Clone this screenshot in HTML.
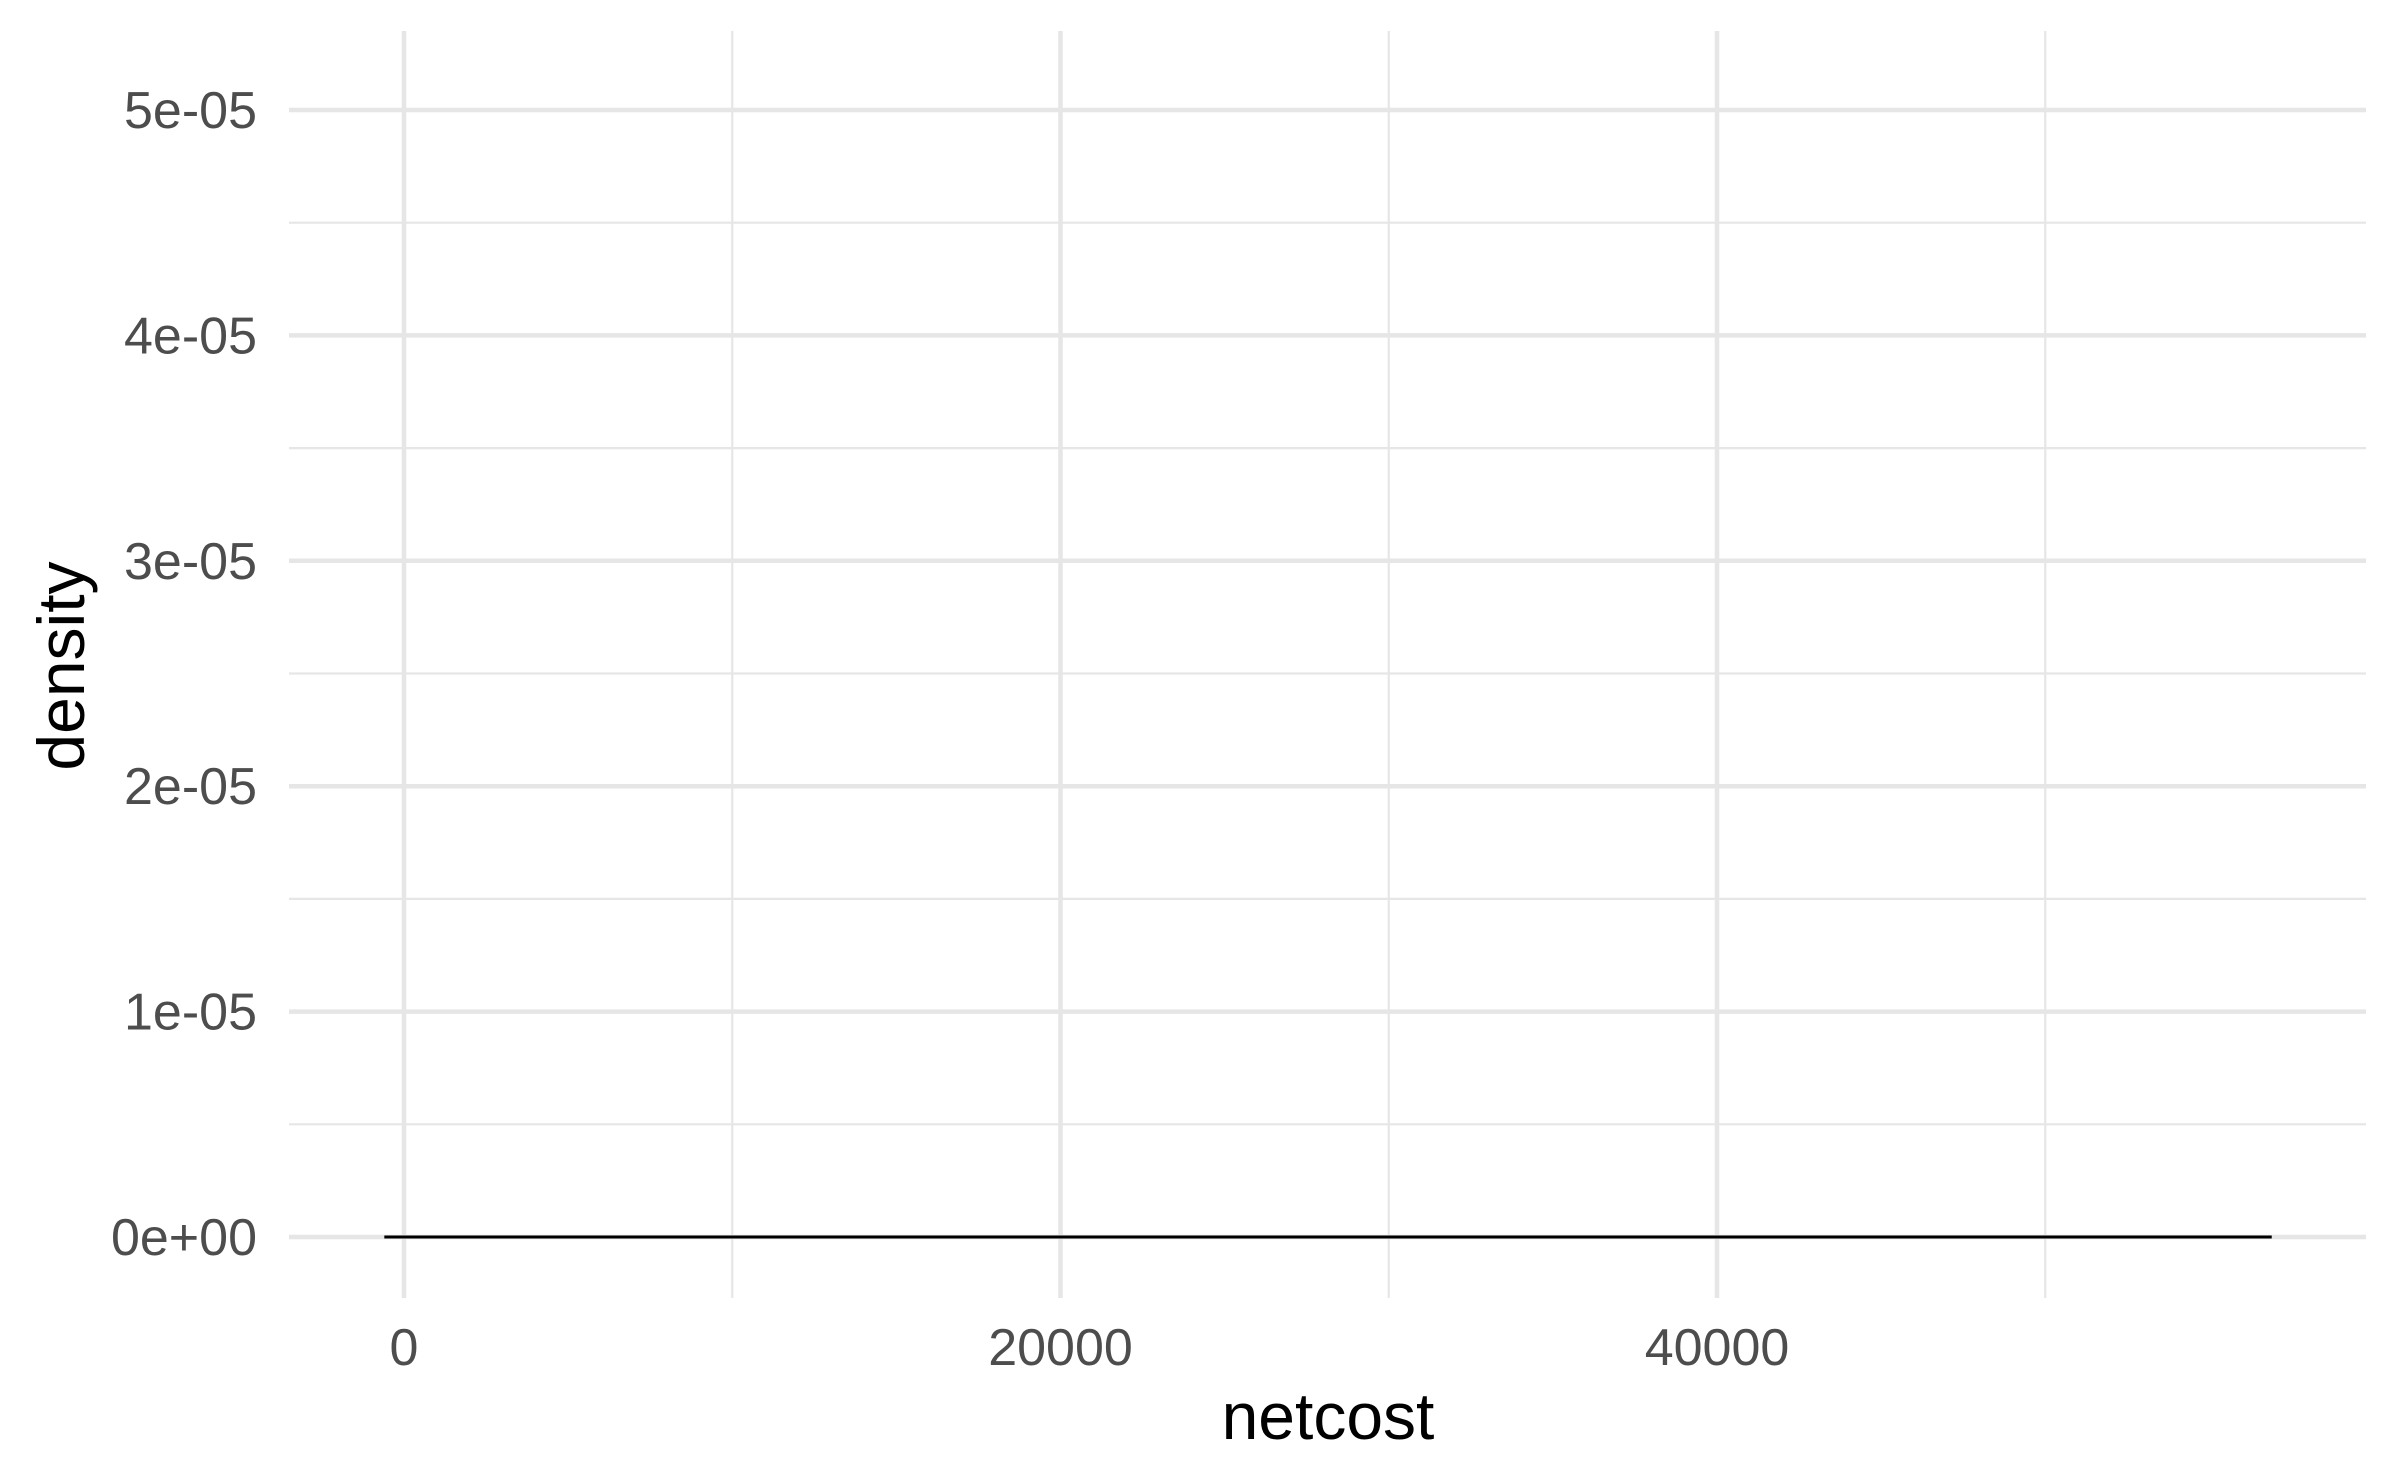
<!DOCTYPE html>
<html><head><meta charset="utf-8"><style>
html,body{margin:0;padding:0;background:#fff}
svg{display:block;font-family:"Liberation Sans",Arial,sans-serif}
</style></head><body>
<svg id="chart" width="2400" height="1483" viewBox="0 0 2400 1483">
<g id="grid"></g>
<g id="ticks"></g>
<g id="series"></g>
<text x="1328" y="1439" text-anchor="middle" font-size="66" fill="#000">netcost</text>
<text transform="translate(84,666) rotate(-90)" text-anchor="middle" font-size="66" fill="#000">density</text>
</svg>
<script>
const xTicks=[0,20000,40000];
const xTickLabels=["0","20000","40000"];
const xMinor=[10000,30000,50000];
const yTicks=[0,1e-5,2e-5,3e-5,4e-5,5e-5];
const yTickLabels=["0e+00","1e-05","2e-05","3e-05","4e-05","5e-05"];
const yMinor=[0.5e-5,1.5e-5,2.5e-5,3.5e-5,4.5e-5];
const densX=[-600,10000,20000,30000,40000,50000,56900];
const densY=[0,0,0,0,0,0,0];
const L=289,R=2366,T=31,B=1298;
const sx=v=>404+v*(1717-404)/40000;
const sy=v=>1237-v*(1237-110)/5e-5;
const NS="http://www.w3.org/2000/svg";
function mk(t,a,p){const e=document.createElementNS(NS,t);for(const k in a)e.setAttribute(k,a[k]);p.appendChild(e);return e;}
const g=document.getElementById('grid'),tk=document.getElementById('ticks'),s=document.getElementById('series');
yMinor.forEach(v=>{const e=mk('line',{x1:L,x2:R,y1:sy(v),y2:sy(v),stroke:'#e6e6e6','stroke-width':2.2},g);

});
xMinor.forEach(v=>{const e=mk('line',{x1:sx(v),x2:sx(v),y1:T,y2:B,stroke:'#e6e6e6','stroke-width':2.2},g);

});
yTicks.forEach((v,i)=>{const e=mk('line',{x1:L,x2:R,y1:sy(v),y2:sy(v),stroke:'#e6e6e6','stroke-width':4.5},g);


const t=mk('text',{x:257,y:sy(v)+18,'text-anchor':'end','font-size':52,fill:'#4d4d4d'},tk);t.textContent=yTickLabels[i];

});
xTicks.forEach((v,i)=>{const e=mk('line',{x1:sx(v),x2:sx(v),y1:T,y2:B,stroke:'#e6e6e6','stroke-width':4.5},g);


const t=mk('text',{x:sx(v),y:1365,'text-anchor':'middle','font-size':52,fill:'#4d4d4d'},tk);t.textContent=xTickLabels[i];

});
const d=densX.map((x,i)=>(i?'L':'M')+sx(x)+','+sy(densY[i])).join('');
const p=mk('path',{d:d,fill:'none',stroke:'#000','stroke-width':3},s);


</script>
</body></html>
